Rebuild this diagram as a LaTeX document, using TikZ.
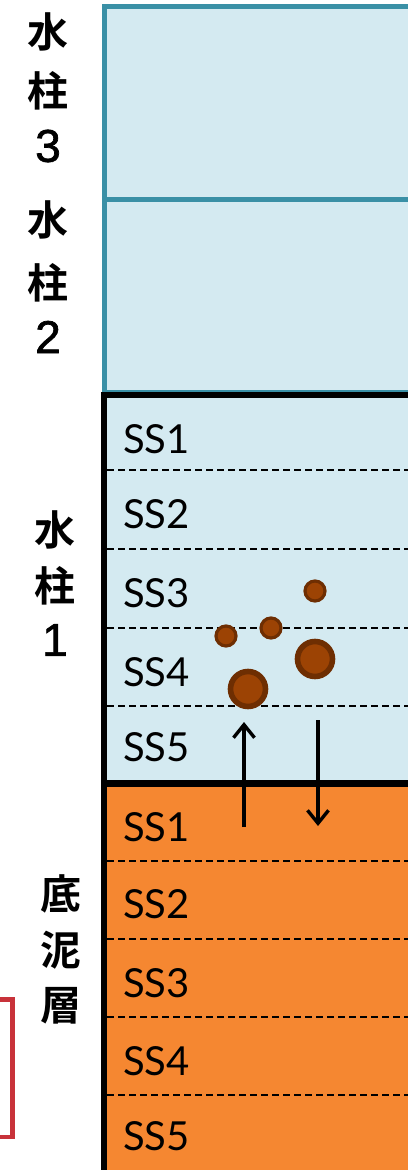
\documentclass[tikz,border=0pt]{standalone}
\usepackage{fontspec}
\setmainfont{Lato}
\newfontfamily\cjk{Noto Sans CJK JP Bold}
\newfontfamily\digitfont{Liberation Sans}
\usetikzlibrary{arrows.meta}
\definecolor{waterfill}{HTML}{D4EAF1}
\definecolor{tealline}{HTML}{3A90A6}
\definecolor{mudfill}{HTML}{F58731}
\definecolor{grainout}{HTML}{6E2E02}
\definecolor{grainin}{HTML}{9C4304}
\definecolor{bracketred}{HTML}{C8323A}
\tikzset{
  colbox/.style={draw=tealline, line width=5pt, fill=waterfill},
  rowline/.style={black, line width=2.4pt, dash pattern=on 7pt off 4pt},
  sslabel/.style={anchor=base west, inner sep=0pt, font=\fontsize{40}{40}\selectfont},
  cjklabel/.style={inner sep=0pt, font=\cjk\fontsize{41}{41}\selectfont},
  digit/.style={inner sep=0pt, font=\digitfont\fontsize{46}{46}\selectfont\addfontfeature{FakeBold=1.5}},
  grain/.style={circle, draw=grainout, fill=grainin, inner sep=0pt},
  flux/.style={black, line width=3.4pt, -{Straight Barb[length=13pt, width=21pt, line width=3.4pt]}},
}
\begin{document}
\begin{tikzpicture}[x=1pt, y=-1pt]
\useasboundingbox (0,0) rectangle (407,1170);
\fill[white] (0,0) rectangle (407,1170);

% upper water columns
\draw[colbox] (104,6) rectangle (420,199);
\draw[colbox] (104,199) rectangle (420,392);

% water column 1 and sediment fills
\fill[waterfill] (104,395) rectangle (420,783.5);
\fill[mudfill] (104,783.5) rectangle (420,1180);

% sub-layer dividers
\foreach \y in {470,549,628,706,861,939,1017,1095}
  \draw[rowline] (107,\y) -- (410,\y);

% thick frame of water column 1 and sediment
\draw[black, line width=6.5pt] (420,395) -- (104,395) -- (104,1180);
\draw[black, line width=6.5pt] (101,783.5) -- (420,783.5);

% sub-layer labels
\node[sslabel] (w1) at (123,453) {SS1};
\node[sslabel] (w2) at (123,528) {SS2};
\node[sslabel] (w3) at (123,607) {SS3};
\node[sslabel] (w4) at (123,686) {SS4};
\node[sslabel] (w5) at (123,761) {SS5};
\node[sslabel] (s1) at (123,841) {SS1};
\node[sslabel] (s2) at (123,918) {SS2};
\node[sslabel] (s3) at (123,997) {SS3};
\node[sslabel] (s4) at (123,1075) {SS4};
\node[sslabel] (s5) at (123,1150) {SS5};

% suspended particles
\foreach \nm/\px/\py/\r in {p1/315/591/10, p2/271/628/10, p3/226/636/10, p4/315/659/17.5, p5/248/689/17.5}{
  \node[grain, minimum size=2*\r pt, line width=0.32*\r pt] (\nm) at (\px,\py) {};
}

% resuspension and deposition
\coordinate (upfrom) at (244,827);
\coordinate (upto) at (244,722);
\coordinate (downfrom) at (318,720);
\coordinate (downto) at (318,826);
\draw[flux] (upfrom) -- (upto);
\draw[flux] (downfrom) -- (downto);

% side labels
\node[cjklabel] (c3a) at (48,31.5) {水};
\node[cjklabel] (c3b) at (48,91) {柱};
\node[digit] (c3c) at (48,146) {3};
\node[cjklabel] (c2a) at (48,220) {水};
\node[cjklabel] (c2b) at (48,283) {柱};
\node[digit] (c2c) at (48,337) {2};
\node[cjklabel] (c1a) at (55,530) {水};
\node[cjklabel] (c1b) at (55,586) {柱};
\node[digit] (c1c) at (55,640) {1};
\node[cjklabel] (sa) at (61,894) {底};
\node[cjklabel] (sb) at (61,950) {泥};
\node[cjklabel] (sc) at (61,1006) {層};

% bracket
\coordinate (bra) at (-2,999.5);
\coordinate (brb) at (12.5,999.5);
\coordinate (brc) at (12.5,1137);
\coordinate (brd) at (-2,1137);
\draw[bracketred, line width=4.5pt] (bra) -- (brb) -- (brc) -- (brd);
\end{tikzpicture}
\end{document}
